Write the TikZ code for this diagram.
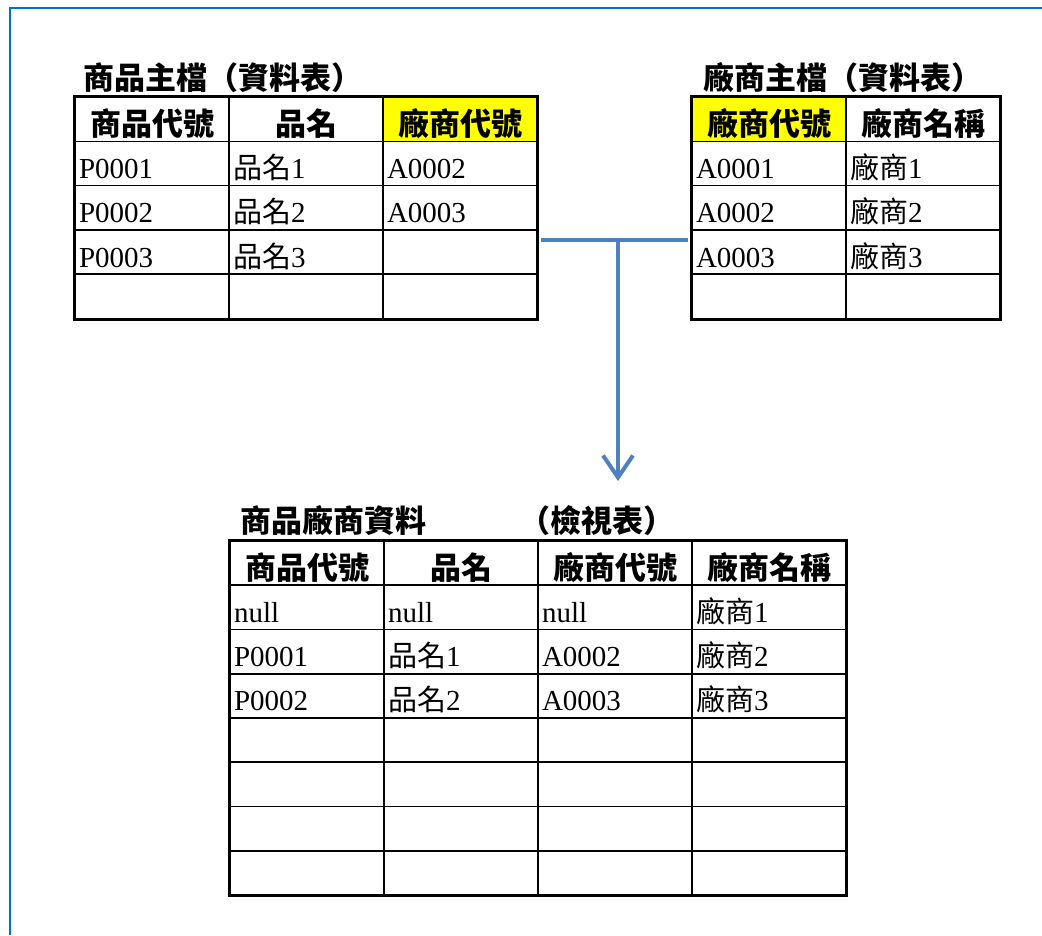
\documentclass[tikz,border=0pt]{standalone}
\usepackage{fontspec}
\setmainfont{Liberation Serif}
\newfontfamily\cjk{Noto Sans CJK TC}
\usetikzlibrary{fit,arrows.meta}
\definecolor{keyyellow}{RGB}{255,255,0}
\definecolor{linkblue}{RGB}{79,129,189}
\definecolor{frameblue}{RGB}{0,114,198}

\begin{document}
\begin{tikzpicture}[x=1pt, y=-1pt,
  cell/.style = {draw, line width=1.5pt, minimum height=44.3pt, text width=146pt,
    inner xsep=4pt, inner ysep=0pt, text height=30pt, text depth=0pt, align=left,
    font=\fontsize{29}{29}\selectfont},
  head/.style = {cell, align=center, text height=32pt, font=\cjk\bfseries\fontsize{31}{31}\selectfont},
  key/.style = {head, fill=keyyellow},
  tab/.style = {draw, line width=3pt, inner sep=0pt},
  title/.style = {anchor=base west, inner sep=0pt, font=\cjk\bfseries\fontsize{31}{31}\selectfont},
  link/.style = {draw=linkblue, line width=4pt}]
	\useasboundingbox (0,0) rectangle (1042,935);
	\draw[frameblue, line width=2pt] (10,935) -- (10,8) -- (1042,8);

	% 商品主檔
	\node[title] (pmtitle) at (83,89) {商品主檔（資料表）};
	\node[head] (pm-1-1) at (152,119.2) {商品代號};
	\node[head] (pm-1-2) at (306,119.2) {品名};
	\node[key] (pm-1-3) at (460,119.2) {廠商代號};
	\foreach \id/\nm/\vd [count=\r from 2] in {P0001/{\cjk 品名}1/A0002, P0002/{\cjk 品名}2/A0003, P0003/{\cjk 品名}3/{}, {}/{}/{}} {
		\node[cell] (pm-\r-1) at (152,{97+44.3*(\r-0.5)}) {\id};
		\node[cell] (pm-\r-2) at (306,{97+44.3*(\r-0.5)}) {\nm};
		\node[cell] (pm-\r-3) at (460,{97+44.3*(\r-0.5)}) {\vd};
	}
	\node[tab, fit=(pm-1-1)(pm-5-3)] (pmtab) {};

	% 廠商主檔
	\node[title] (vmtitle) at (703,89) {廠商主檔（資料表）};
	\node[key] (vm-1-1) at (769,119.2) {廠商代號};
	\node[head] (vm-1-2) at (923,119.2) {廠商名稱};
	\foreach \vd/\vn [count=\r from 2] in {A0001/{\cjk 廠商}1, A0002/{\cjk 廠商}2, A0003/{\cjk 廠商}3, {}/{}} {
		\node[cell] (vm-\r-1) at (769,{97+44.3*(\r-0.5)}) {\vd};
		\node[cell] (vm-\r-2) at (923,{97+44.3*(\r-0.5)}) {\vn};
	}
	\node[tab, fit=(vm-1-1)(vm-5-2)] (vmtab) {};

	% 商品廠商資料 (view)
	\node[title] (pvtitle) at (240,532) {商品廠商資料　　　（檢視表）};
	\node[head] (pv-1-1) at (307,563.1) {商品代號};
	\node[head] (pv-1-2) at (461,563.1) {品名};
	\node[head] (pv-1-3) at (615,563.1) {廠商代號};
	\node[head] (pv-1-4) at (769,563.1) {廠商名稱};
	\foreach \id/\nm/\vd/\vn [count=\r from 2] in {null/null/null/{\cjk 廠商}1,
	    P0001/{\cjk 品名}1/A0002/{\cjk 廠商}2, P0002/{\cjk 品名}2/A0003/{\cjk 廠商}3,
	    {}/{}/{}/{}, {}/{}/{}/{}, {}/{}/{}/{}, {}/{}/{}/{}} {
		\node[cell] (pv-\r-1) at (307,{541+44.25*(\r-0.5)}) {\id};
		\node[cell] (pv-\r-2) at (461,{541+44.25*(\r-0.5)}) {\nm};
		\node[cell] (pv-\r-3) at (615,{541+44.25*(\r-0.5)}) {\vd};
		\node[cell] (pv-\r-4) at (769,{541+44.25*(\r-0.5)}) {\vn};
	}
	\node[tab, fit=(pv-1-1)(pv-8-4)] (pvtab) {};

	% join
	\coordinate (tee) at (618,240);
	\coordinate (drop) at (618,481);
	\draw[link, shorten <=2pt, shorten >=2pt] (pmtab.east |- tee) -- (vmtab.west |- tee);
	\draw[link, -{Straight Barb[length=22pt, width=30pt]}] (tee) -- (drop);
\end{tikzpicture}
\end{document}
